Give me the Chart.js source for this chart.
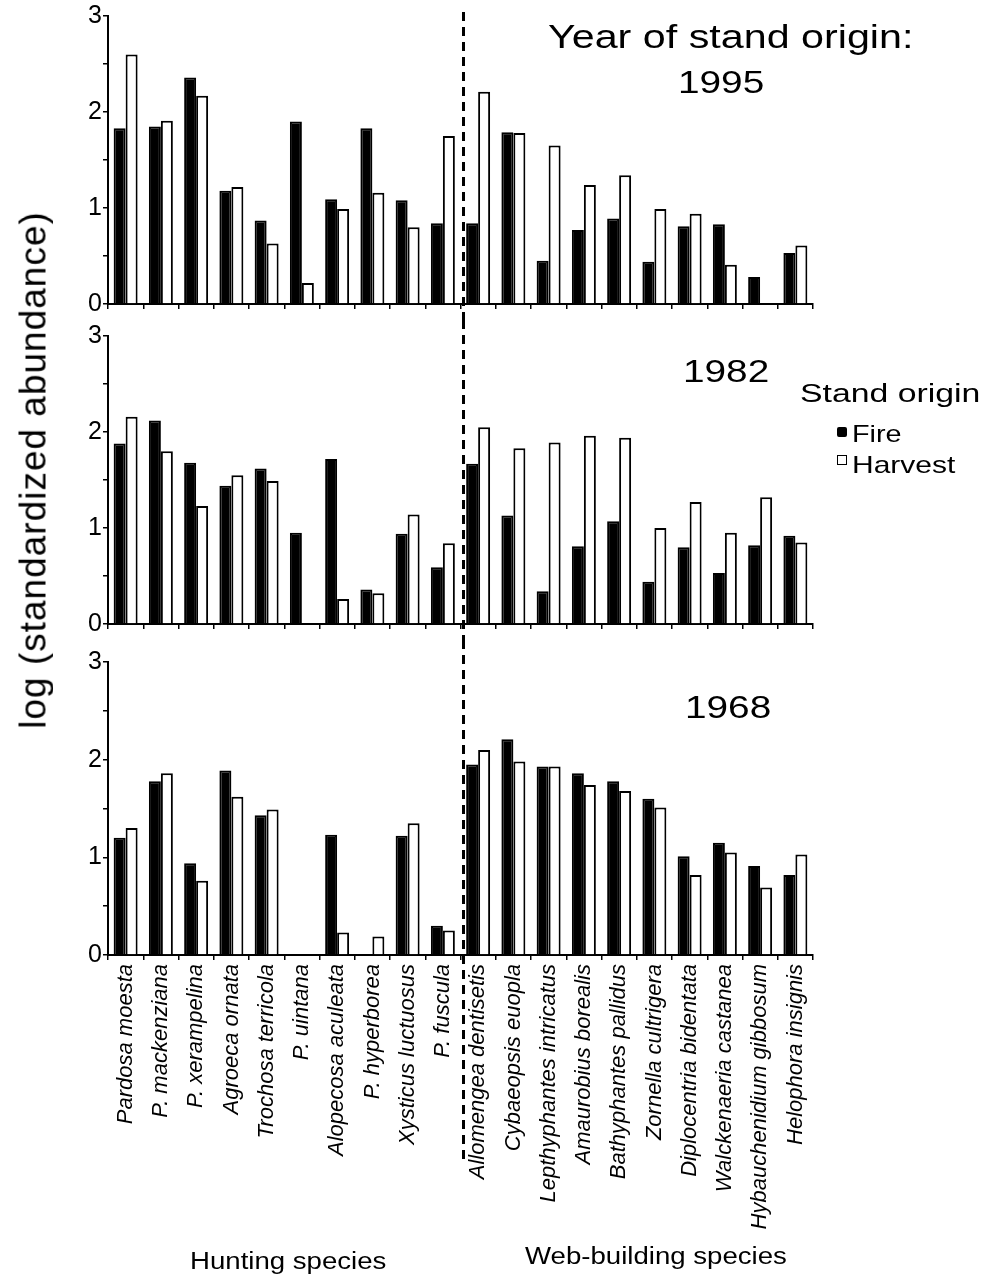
<!DOCTYPE html>
<html>
<head>
<meta charset="utf-8">
<title>Spider abundance by stand origin</title>
<script src="https://cdn.jsdelivr.net/npm/chart.js@4.4.1/dist/chart.umd.min.js"></script>
<style>
  body { margin: 0; background: #fff; }
  #page { position: relative; width: 984px; height: 1279px; overflow: hidden;
          font-family: "Liberation Sans", Arial, sans-serif; color: #000; }
  canvas { position: absolute; left: 0; }
  .txt { position: absolute; white-space: nowrap; line-height: 1; transform-origin: 0 0; }
  .key { position: absolute; width: 10px; height: 10px; box-sizing: border-box; border: 2px solid #000; }
</style>
</head>
<body>
<div id="page">
  <canvas id="c1995" width="984" height="320" style="top:0"></canvas>
  <canvas id="c1982" width="984" height="320" style="top:320px"></canvas>
  <canvas id="c1968" width="984" height="639" style="top:640px"></canvas>

  <!-- titles and legend -->
  <div class="txt" style="left:548px; top:20px; font-size:33px; transform:scaleX(1.25)">Year of stand origin:</div>
  <div class="txt" style="left:678px; top:67px; font-size:31px; transform:scaleX(1.25)">1995</div>
  <div class="txt" style="left:683px; top:356px; font-size:31px; transform:scaleX(1.25)">1982</div>
  <div class="txt" style="left:685px; top:692px; font-size:31px; transform:scaleX(1.25)">1968</div>

  <div class="txt" style="left:800px; top:380px; font-size:26px; transform:scaleX(1.3)">Stand origin</div>
  <div class="key" style="left:837px; top:427px; background:#000; border-radius:2px"></div>
  <div class="txt" style="left:852px; top:422px; font-size:24px; transform:scaleX(1.2)">Fire</div>
  <div class="key" style="left:837px; top:455px; background:#fff; border-width:1.5px"></div>
  <div class="txt" style="left:852px; top:453px; font-size:24px; transform:scaleX(1.25)">Harvest</div>

  <div class="txt" style="left:190px; top:1250px; font-size:23px; transform:scaleX(1.2)">Hunting species</div>
  <div class="txt" style="left:525px; top:1245px; font-size:23px; transform:scaleX(1.2)">Web-building species</div>

  <div class="txt" style="left:33px; top:470px; font-size:37px; letter-spacing:1px; transform-origin:50% 50%; transform:translate(-50%,-50%) rotate(-90deg)">log (standardized abundance)</div>
</div>

<script>
// species, hunting first (10), then web-building (10)
const species = [
  'Pardosa moesta', 'P. mackenziana', 'P. xerampelina', 'Agroeca ornata', 'Trochosa terricola',
  'P. uintana', 'Alopecosa aculeata', 'P. hyperborea', 'Xysticus luctuosus', 'P. fuscula',
  'Allomengea dentisetis', 'Cybaeopsis euopla', 'Lepthyphantes intricatus', 'Amaurobius borealis',
  'Bathyphantes pallidus', 'Zornella cultrigera', 'Diplocentria bidentata', 'Walckenaeria castanea',
  'Hybauchenidium gibbosum', 'Helophora insignis'
];

// log (standardized abundance) per stand age
const fire1995 = [1.83, 1.85, 2.36, 1.18, 0.87, 1.90, 1.09, 1.83, 1.08, 0.84,
                  0.84, 1.79, 0.45, 0.77, 0.89, 0.44, 0.81, 0.83, 0.28, 0.53];
const harvest1995 = [2.60, 1.91, 2.17, 1.22, 0.63, 0.22, 0.99, 1.16, 0.80, 1.75,
                     2.21, 1.78, 1.65, 1.24, 1.34, 0.99, 0.94, 0.41, 0, 0.61];

const fire1982 = [1.88, 2.12, 1.68, 1.44, 1.62, 0.95, 1.72, 0.36, 0.94, 0.59,
                  1.67, 1.13, 0.34, 0.81, 1.07, 0.44, 0.80, 0.53, 0.82, 0.92];
const harvest1982 = [2.16, 1.80, 1.23, 1.55, 1.49, 0, 0.26, 0.32, 1.14, 0.84,
                     2.05, 1.83, 1.89, 1.96, 1.94, 1.00, 1.27, 0.95, 1.32, 0.85];

const fire1968 = [1.20, 1.78, 0.94, 1.89, 1.43, 0, 1.23, 0, 1.22, 0.30,
                  1.95, 2.21, 1.93, 1.86, 1.78, 1.60, 1.01, 1.15, 0.91, 0.82];
const harvest1968 = [1.30, 1.86, 0.76, 1.62, 1.49, 0, 0.23, 0.19, 1.35, 0.25,
                     2.10, 1.98, 1.93, 1.74, 1.68, 1.51, 0.82, 1.05, 0.69, 1.03];

const yTicks = [0, 1, 2, 3];
const FONT = '"Liberation Sans", Arial, sans-serif';

// dashed divider between hunting and web-building species
const dividerLine = {
  id: 'dividerLine',
  afterDraw(chart, args, opts) {
    const x = chart.scales.x;
    const px = (x.getPixelForValue(9) + x.getPixelForValue(10)) / 2 + 3;
    const ctx = chart.ctx;
    ctx.save();
    ctx.strokeStyle = '#000';
    ctx.lineWidth = 3;
    ctx.setLineDash([9, 6]);
    ctx.beginPath();
    ctx.moveTo(px, opts.from);
    ctx.lineTo(px, opts.to);
    ctx.stroke();
    ctx.restore();
  }
};

function makePanel(id, fire, harvest, box) {
  return new Chart(document.getElementById(id), {
    type: 'bar',
    data: {
      labels: species,
      datasets: [
        { label: 'Fire', data: fire, backgroundColor: '#000', borderColor: '#000',
          borderWidth: 2, categoryPercentage: 0.68, barPercentage: 1 },
        { label: 'Harvest', data: harvest, backgroundColor: '#fff', borderColor: '#000',
          borderWidth: 2, categoryPercentage: 0.68, barPercentage: 1 }
      ]
    },
    options: {
      responsive: false,
      animation: false,
      layout: { padding: { top: box.top, right: 171, left: 0, bottom: 0 } },
      plugins: {
        legend: { display: false },
        tooltip: { enabled: false },
        dividerLine: { from: box.lineFrom, to: box.lineTo }
      },
      scales: {
        x: {
          grid: { drawOnChartArea: false, tickLength: 5, color: '#000', lineWidth: 1.5, offset: true },
          border: { color: '#000', width: 2 },
          ticks: {
            display: box.showLabels, autoSkip: false, minRotation: 90, maxRotation: 90,
            padding: 4, color: '#000', font: { family: FONT, size: 22, style: 'italic' }
          },
          afterFit: s => { s.height = box.xHeight; }
        },
        y: {
          min: 0, max: 3,
          grid: { drawOnChartArea: false, tickLength: 5, color: '#000', lineWidth: 1.5 },
          border: { color: '#000', width: 2 },
          ticks: {
            stepSize: 0.5, autoSkip: false, padding: 1, color: '#000',
            font: { family: FONT, size: 25 },
            callback: v => yTicks.includes(v) ? v : ''
          },
          afterFit: s => { s.width = 108; }
        }
      }
    },
    plugins: [dividerLine]
  });
}

makePanel('c1995', fire1995, harvest1995, { top: 15, xHeight: 15, showLabels: false, lineFrom: 12, lineTo: 320 });
makePanel('c1982', fire1982, harvest1982, { top: 16, xHeight: 8, showLabels: false, lineFrom: 0, lineTo: 320 });
makePanel('c1968', fire1968, harvest1968, { top: 22, xHeight: 324, showLabels: true, lineFrom: 0, lineTo: 520 });
</script>
</body>
</html>
